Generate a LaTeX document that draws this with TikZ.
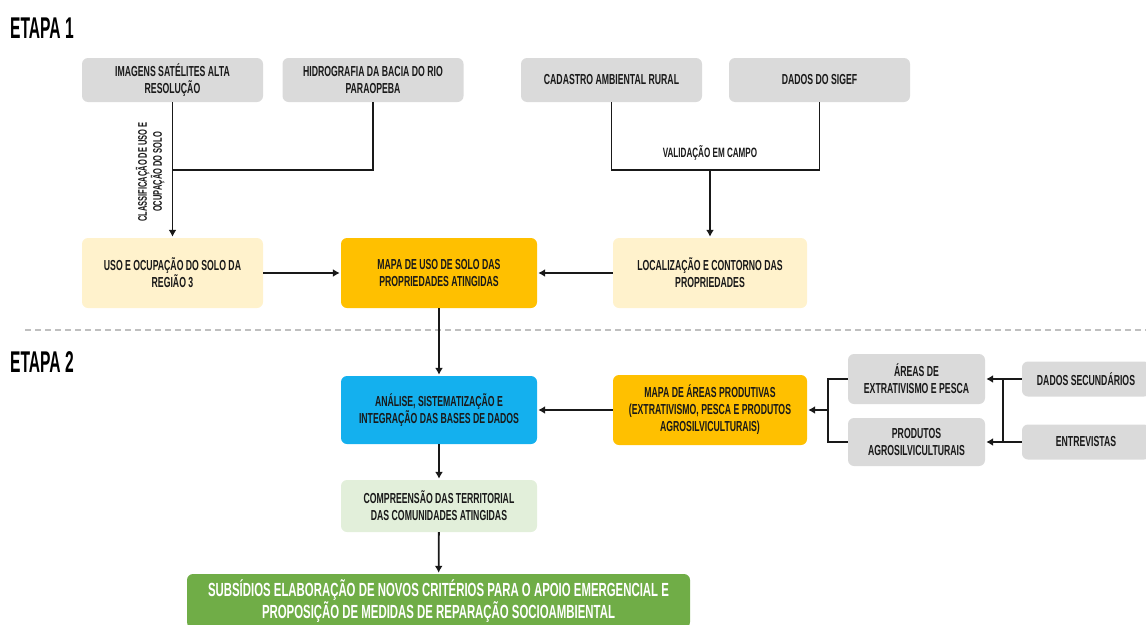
\documentclass[tikz,border=0pt]{standalone}
\usepackage{fontspec}
\setmainfont{Liberation Sans}
\newfontfamily\narrowfont[FakeStretch=0.6]{Liberation Sans}
\newfontfamily\titlefont[FakeStretch=0.52]{Liberation Sans}
\usepackage{xcolor}
\usepackage{tikz}
\usetikzlibrary{arrows.meta, positioning, calc}

\definecolor{boxgray}{HTML}{DADADA}
\definecolor{paleyellow}{HTML}{FFF2CC}
\definecolor{mapaorange}{HTML}{FFC000}
\definecolor{skyblue}{HTML}{14B0EE}
\definecolor{palegreen}{HTML}{E2EFDA}
\definecolor{leafgreen}{HTML}{70AD47}
\definecolor{sepgray}{HTML}{BFBFBF}

\begin{document}
\begin{tikzpicture}[
    x=1pt, y=-1pt,
    box/.style={rectangle, rounded corners=6pt, minimum width=181pt, minimum height=44pt, inner sep=2pt, align=center, text=black!90, font=\narrowfont\bfseries\fontsize{14.5}{17}\selectfont},
    lbl/.style={align=center, text=black!90, inner sep=1pt, font=\narrowfont\bfseries\fontsize{13.5}{15}\selectfont},
    etapa/.style={anchor=west, inner sep=0pt, font=\titlefont\bfseries\fontsize{30}{32}\selectfont},
    line/.style={line width=1.8pt, black!90},
    arrow/.style={line, -{Latex[length=7pt,width=8pt]}, shorten >=1pt}
]
    \useasboundingbox (0,0) rectangle (1146,624);

    % Titles
    \node[etapa] (etapa1) at (10,28) {ETAPA 1};
    \node[etapa] (etapa2) at (10,362) {ETAPA 2};
    \draw[sepgray, line width=1.6pt, dash pattern=on 6pt off 4pt] (25,330) -- (1146,330);

    % Etapa 1 - sources
    \node[box, fill=boxgray] (img) at (172.5,80) {IMAGENS SATÉLITES ALTA\\RESOLUÇÃO};
    \node[box, fill=boxgray] (hidro) at (373,80) {HIDROGRAFIA DA BACIA DO RIO\\PARAOPEBA};
    \node[box, fill=boxgray] (car) at (611.5,80) {CADASTRO AMBIENTAL RURAL};
    \node[box, fill=boxgray] (sigef) at (819.5,80) {DADOS DO SIGEF};

    % Etapa 1 - results
    \node[box, fill=paleyellow, minimum height=70pt] (uso) at (172.5,273) {USO E OCUPAÇÃO DO SOLO DA\\REGIÃO 3};
    \node[box, fill=mapaorange, minimum width=196pt, minimum height=70pt] (mapa) at (439,273) {MAPA DE USO DE SOLO DAS\\PROPRIEDADES ATINGIDAS};
    \node[box, fill=paleyellow, minimum width=194pt, minimum height=70pt] (loc) at (710,273) {LOCALIZAÇÃO E CONTORNO DAS\\PROPRIEDADES};

    % Etapa 2
    \node[box, fill=skyblue, minimum width=196pt, minimum height=68pt] (analise) at (439,410) {ANÁLISE, SISTEMATIZAÇÃO E\\INTEGRAÇÃO DAS BASES DE DADOS};
    \node[box, fill=mapaorange, minimum width=194pt, minimum height=70pt] (mapaprod) at (710,410) {MAPA DE ÁREAS PRODUTIVAS\\(EXTRATIVISMO, PESCA E PRODUTOS\\AGROSILVICULTURAIS)};
    \node[box, fill=boxgray, minimum width=137pt, minimum height=50pt] (areas) at (916.5,379) {ÁREAS DE\\EXTRATIVISMO E PESCA};
    \node[box, fill=boxgray, minimum width=137pt, minimum height=48pt] (produtos) at (916.5,442) {PRODUTOS\\AGROSILVICULTURAIS};
    \node[box, fill=boxgray, minimum width=128pt, minimum height=35pt] (dadossec) at (1086,379) {DADOS SECUNDÁRIOS};
    \node[box, fill=boxgray, minimum width=128pt, minimum height=35pt] (entrev) at (1086,442) {ENTREVISTAS};
    \node[box, fill=palegreen, minimum width=196pt, minimum height=52pt] (compr) at (439,506) {COMPREENSÃO DAS TERRITORIAL\\DAS COMUNIDADES ATINGIDAS};
    \node[box, fill=leafgreen, text=white, minimum width=503pt, minimum height=54pt, font=\narrowfont\bfseries\fontsize{19}{22}\selectfont] (subs) at (438.5,601) {SUBSÍDIOS ELABORAÇÃO DE NOVOS CRITÉRIOS PARA O APOIO EMERGENCIAL E\\PROPOSIÇÃO DE MEDIDAS DE REPARAÇÃO SOCIOAMBIENTAL};

    % Junctions
    \coordinate (jclass) at (172.5,170);
    \coordinate (jval) at (710,170);
    \coordinate (jprod) at (828,410);
    \coordinate (jsec) at (1003,379);
    \coordinate (jent) at (1003,442);

    % Labels
    \node[lbl, rotate=90, font=\narrowfont\bfseries\fontsize{12.5}{15}\selectfont] (classlbl) at (150,172) {CLASSIFICAÇÃO DE USO E\\OCUPAÇÃO DO SOLO};
    \node[lbl] (vallbl) at (710,153) {VALIDAÇÃO EM CAMPO};

    % Arrows
    \draw[arrow] (img) -- (uso);
    \draw[line] (hidro.south) |- (jclass);
    \draw[line] (car.south) |- (jval) -| (sigef.south);
    \draw[arrow] (jval) -- (loc);
    \draw[arrow] (uso) -- (mapa);
    \draw[arrow] (loc) -- (mapa);
    \draw[arrow] (mapa) -- (analise);
    \draw[arrow] (mapaprod) -- (analise);
    \draw[line] (areas.west) -| (jprod) |- (produtos.west);
    \draw[arrow] (jprod) -- (mapaprod.east);
    \draw[line] (dadossec.west) -- (jsec) -- (jent) -- (entrev.west);
    \draw[arrow] (jsec) -- (areas.east);
    \draw[arrow] (jent) -- (produtos.east);
    \draw[arrow] (analise) -- (compr);
    \draw[arrow] (compr) -- (subs);
\end{tikzpicture}
\end{document}
